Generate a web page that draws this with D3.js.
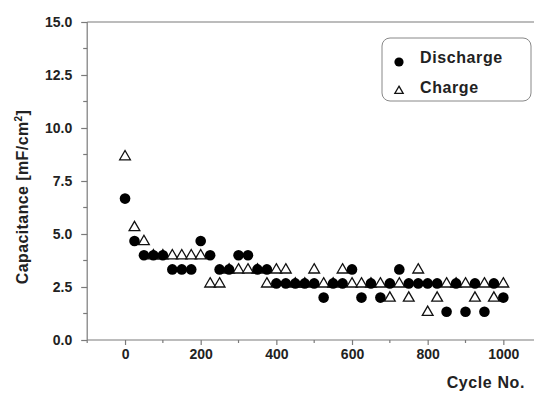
<!DOCTYPE html>
<html>
<head>
<meta charset="utf-8">
<script src="https://cdn.jsdelivr.net/npm/d3@7"></script>
<style>
  body { margin: 0; background: #fff; }
  text { font-family: "Liberation Sans", Arial, sans-serif; font-weight: bold; fill: #222; }
</style>
</head>
<body>
<div id="chart"></div>
<script>
// cycle numbers (x) and capacitance values in mF/cm2
const cycles = [0, 25, 50, 75, 100, 125, 150, 175, 200, 225, 250, 275, 300, 325, 350, 375, 400, 425, 450, 475,
  500, 525, 550, 575, 600, 625, 650, 675, 700, 725, 750, 775, 800, 825, 850, 875, 900, 925, 950, 975, 1000];
const discharge = [6.67, 4.67, 4.0, 4.0, 4.0, 3.33, 3.33, 3.33, 4.67, 4.0, 3.33, 3.33, 4.0, 4.0, 3.33, 3.33, 2.67, 2.67, 2.67, 2.67,
  2.67, 2.0, 2.67, 2.67, 3.33, 2.0, 2.67, 2.0, 2.67, 3.33, 2.67, 2.67, 2.67, 2.67, 1.33, 2.67, 1.33, 2.67, 1.33, 2.67, 2.0];
const charge = [8.67, 5.33, 4.67, 4.0, 4.0, 4.0, 4.0, 4.0, 4.0, 2.67, 2.67, 3.33, 3.33, 3.33, 3.33, 2.67, 3.33, 3.33, 2.67, 2.67,
  3.33, 2.67, 2.67, 3.33, 2.67, 2.67, 2.67, 2.67, 2.0, 2.67, 2.0, 3.33, 1.33, 2.0, 2.67, 2.67, 2.67, 2.0, 2.67, 2.0, 2.67];
const xTicks = [0, 200, 400, 600, 800, 1000];
const xMinor = [-100, 100, 300, 500, 700, 900];
const yTicks = [0, 2.5, 5, 7.5, 10, 12.5, 15];
const yMinor = [1.25, 3.75, 6.25, 8.75, 11.25, 13.75];

const width = 534, height = 393;
const axisColor = "#7a7a7a";

const svg = d3.select("#chart").append("svg")
  .attr("width", width)
  .attr("height", height);

const x = d3.scaleLinear().domain([-100, 1080]).range([87.2, 533.6]);
const y = d3.scaleLinear().domain([0, 15]).range([340, 22]);

// frame: top line
svg.append("line")
  .attr("x1", x(-100)).attr("x2", width)
  .attr("y1", y(15)).attr("y2", y(15))
  .attr("stroke", axisColor).attr("stroke-width", 1.2);

// x axis
const xAxis = svg.append("g")
  .attr("transform", "translate(0," + y(0) + ")")
  .call(d3.axisBottom(x).tickValues(xTicks).tickSize(5).tickPadding(4).tickFormat(d3.format("d")));
xAxis.select(".domain").attr("stroke", axisColor).attr("stroke-width", 1.2)
  .attr("d", "M" + x(-100) + ",0H" + width);
xAxis.selectAll(".tick line").attr("stroke", axisColor).attr("stroke-width", 1.2);
xAxis.selectAll(".tick text").style("font-size", "14px").attr("fill", "#222");
xAxis.selectAll(".minor").data(xMinor).enter().append("line")
  .attr("x1", d => x(d)).attr("x2", d => x(d))
  .attr("y1", 0).attr("y2", 3)
  .attr("stroke", axisColor).attr("stroke-width", 1.2);

// y axis
const yAxis = svg.append("g")
  .attr("transform", "translate(" + x(-100) + ",0)")
  .call(d3.axisLeft(y).tickValues(yTicks).tickSize(6).tickPadding(9).tickFormat(d3.format(".1f")));
yAxis.select(".domain").attr("stroke", axisColor).attr("stroke-width", 1.2)
  .attr("d", "M0," + y(0) + "V" + y(15));
yAxis.selectAll(".tick line").attr("stroke", axisColor).attr("stroke-width", 1.2);
yAxis.selectAll(".tick text").style("font-size", "14px").attr("fill", "#222");
yAxis.selectAll(".minor").data(yMinor).enter().append("line")
  .attr("x1", -4).attr("x2", 0)
  .attr("y1", d => y(d)).attr("y2", d => y(d))
  .attr("stroke", axisColor).attr("stroke-width", 1.2);

// axis titles
svg.append("text")
  .attr("x", 525).attr("y", 388)
  .attr("text-anchor", "end")
  .style("font-size", "16px")
  .style("letter-spacing", "0.6px")
  .text("Cycle No.");

const yTitle = svg.append("text")
  .attr("transform", "translate(28,197) rotate(-90)")
  .attr("text-anchor", "middle")
  .style("font-size", "16px")
  .style("letter-spacing", "0.4px");
yTitle.append("tspan").text("Capacitance [mF/cm");
yTitle.append("tspan").attr("dy", -6).style("font-size", "10px").text("2");
yTitle.append("tspan").attr("dy", 6).text("]");

// charge triangles (drawn first), then discharge circles
const tri = d3.symbol().type(d3.symbolTriangle).size(50);
svg.append("g").selectAll("path")
  .data(cycles.map((c, i) => ({ c: c, v: charge[i] })))
  .enter().append("path")
  .attr("d", tri)
  .attr("transform", d => "translate(" + x(d.c) + "," + (y(d.v) + 0.5) + ")")
  .attr("fill", "#fff")
  .attr("stroke", "#111")
  .attr("stroke-width", 1.3);

svg.append("g").selectAll("circle")
  .data(cycles.map((c, i) => ({ c: c, v: discharge[i] })))
  .enter().append("circle")
  .attr("cx", d => x(d.c))
  .attr("cy", d => y(d.v))
  .attr("r", 5.3)
  .attr("fill", "#000");

// legend
const legend = svg.append("g");
legend.append("rect")
  .attr("x", 382).attr("y", 38)
  .attr("width", 149).attr("height", 63)
  .attr("rx", 8).attr("ry", 8)
  .attr("fill", "#fff")
  .attr("stroke", "#888").attr("stroke-width", 1);
legend.append("circle")
  .attr("cx", 399).attr("cy", 62).attr("r", 4.6).attr("fill", "#000");
legend.append("path")
  .attr("d", d3.symbol().type(d3.symbolTriangle).size(30))
  .attr("transform", "translate(399,91)")
  .attr("fill", "#fff").attr("stroke", "#111").attr("stroke-width", 1.3);
legend.append("text")
  .attr("x", 420).attr("y", 63)
  .style("font-size", "16px").style("letter-spacing", "0.6px")
  .text("Discharge");
legend.append("text")
  .attr("x", 420).attr("y", 93)
  .style("font-size", "16px").style("letter-spacing", "0.6px")
  .text("Charge");
</script>
</body>
</html>
